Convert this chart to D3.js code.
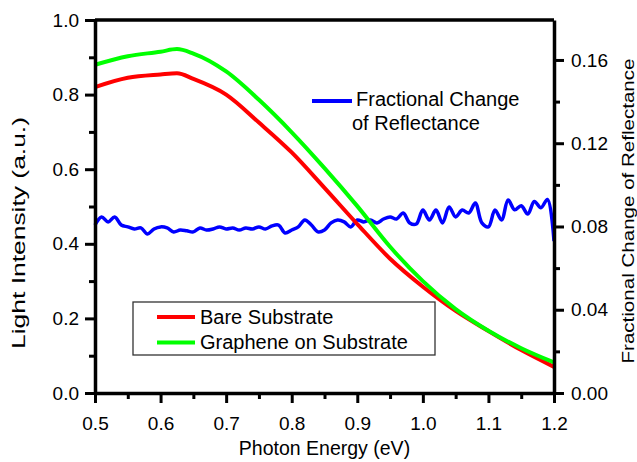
<!DOCTYPE html>
<html>
<head>
<meta charset="utf-8">
<script src="https://cdn.jsdelivr.net/npm/d3@7"></script>
<style>
  body { margin: 0; background: #fff; }
  text { font-family: "Liberation Sans", Arial, Helvetica, sans-serif; fill: #000; }
</style>
</head>
<body>
<script>
// intensity curves (left axis)
var smoothEnergy = [0.50, 0.55, 0.60, 0.625, 0.65, 0.70, 0.75, 0.80, 0.85, 0.90, 0.95, 1.00, 1.05, 1.10, 1.15, 1.20];
var bareSubstrate = [0.820, 0.845, 0.854, 0.857, 0.842, 0.800, 0.725, 0.645, 0.550, 0.453, 0.360, 0.285, 0.220, 0.166, 0.115, 0.070];
var grapheneOnSubstrate = [0.880, 0.903, 0.915, 0.922, 0.910, 0.862, 0.786, 0.699, 0.603, 0.501, 0.392, 0.300, 0.225, 0.167, 0.120, 0.082];

// fractional change of reflectance (right axis)
var blueEnergy = [0.50, 0.51, 0.52, 0.53, 0.54, 0.55, 0.56, 0.57, 0.58, 0.59,
  0.60, 0.61, 0.62, 0.63, 0.64, 0.65, 0.66, 0.67, 0.68, 0.69,
  0.70, 0.71, 0.72, 0.73, 0.74, 0.75, 0.76, 0.77, 0.78, 0.79,
  0.80, 0.81, 0.82, 0.83, 0.84, 0.85, 0.86, 0.87, 0.88, 0.89,
  0.90, 0.91, 0.92, 0.93, 0.94, 0.95, 0.96, 0.97, 0.98, 0.99,
  1.00, 1.01, 1.02, 1.03, 1.04, 1.05, 1.06, 1.07, 1.08, 1.09,
  1.10, 1.11, 1.12, 1.13, 1.14, 1.15, 1.16, 1.17, 1.18, 1.19, 1.20];
var fractionalChange = [0.0807, 0.0846, 0.0822, 0.0846, 0.0807, 0.0798, 0.0788, 0.0793, 0.0764, 0.0788,
  0.0798, 0.0793, 0.0774, 0.0783, 0.0779, 0.0774, 0.0793, 0.0783, 0.0788, 0.0798,
  0.0788, 0.0793, 0.0783, 0.0793, 0.0788, 0.0798, 0.0788, 0.0803, 0.0807, 0.0769,
  0.0783, 0.0798, 0.0831, 0.0807, 0.0774, 0.0783, 0.0817, 0.0831, 0.0822, 0.0798,
  0.0831, 0.0822, 0.0831, 0.0817, 0.0836, 0.0846, 0.0836, 0.0865, 0.0817, 0.0812,
  0.0879, 0.0831, 0.0879, 0.0817, 0.0894, 0.0846, 0.0879, 0.0865, 0.0913, 0.0817,
  0.0798, 0.0879, 0.0831, 0.0927, 0.0880, 0.0900, 0.0860, 0.0920, 0.0890, 0.0930, 0.0730];

var xTicks = [0.5, 0.6, 0.7, 0.8, 0.9, 1.0, 1.1, 1.2];
var xMinor = [0.55, 0.65, 0.75, 0.85, 0.95, 1.05, 1.15];
var yTicks = [0.0, 0.2, 0.4, 0.6, 0.8, 1.0];
var yMinor = [0.1, 0.3, 0.5, 0.7, 0.9];
var y2Ticks = [0.00, 0.04, 0.08, 0.12, 0.16];
var y2Minor = [0.02, 0.06, 0.10, 0.14];

var svgWidth = 637, svgHeight = 462;
var margin = {top: 20, left: 95, right: 83, bottom: 69};
var width = svgWidth - margin.left - margin.right;
var height = svgHeight - margin.top - margin.bottom;

var svg = d3.select("body").append("svg")
  .attr("width", svgWidth)
  .attr("height", svgHeight);

var g = svg.append("g")
  .attr("transform", `translate(${margin.left}, ${margin.top})`);

var x = d3.scaleLinear().domain([0.5, 1.2]).range([0, width]);
var y = d3.scaleLinear().domain([0, 1.0]).range([height, 0]);
var y2 = d3.scaleLinear().domain([0, 0.1792]).range([height, 0]);

//curves
var redData = smoothEnergy.map((e, i) => [e, bareSubstrate[i]]);
var greenData = smoothEnergy.map((e, i) => [e, grapheneOnSubstrate[i]]);
var blueData = blueEnergy.map((e, i) => [e, fractionalChange[i]]);

var smoothLine = d3.line()
  .x(d => x(d[0]))
  .y(d => y(d[1]))
  .curve(d3.curveMonotoneX);

var blueLine = d3.line()
  .x(d => x(d[0]))
  .y(d => y2(d[1]))
  .curve(d3.curveCatmullRom);

g.append("path").datum(blueData)
  .attr("d", blueLine)
  .attr("fill", "none").attr("stroke", "#0000ff").attr("stroke-width", 3.5)
  .attr("stroke-linejoin", "round");

g.append("path").datum(redData)
  .attr("d", smoothLine)
  .attr("fill", "none").attr("stroke", "#ff0000").attr("stroke-width", 4);

g.append("path").datum(greenData)
  .attr("d", smoothLine)
  .attr("fill", "none").attr("stroke", "#00ff00").attr("stroke-width", 4);

// axes
function styleAxis(sel) {
  sel.select(".domain").attr("stroke", "#000").attr("stroke-width", 3.5);
  sel.selectAll(".tick line").attr("stroke", "#000").attr("stroke-width", 3);
  sel.selectAll(".tick text").style("font-size", "19px");
}

var bottomAxis = d3.axisBottom(x).tickValues(xTicks).tickFormat(d3.format(".1f"))
  .tickSizeInner(10).tickSizeOuter(0).tickPadding(14);
g.append("g").attr("transform", `translate(0, ${height})`).call(bottomAxis).call(styleAxis);
g.append("g").attr("transform", `translate(0, ${height})`)
  .call(d3.axisBottom(x).tickValues(xMinor).tickSize(6).tickFormat(""))
  .call(styleAxis).select(".domain").remove();

var leftAxis = d3.axisLeft(y).tickValues(yTicks).tickFormat(d3.format(".1f"))
  .tickSizeInner(10).tickSizeOuter(0).tickPadding(6);
g.append("g").call(leftAxis).call(styleAxis);
g.append("g")
  .call(d3.axisLeft(y).tickValues(yMinor).tickSize(6).tickFormat(""))
  .call(styleAxis).select(".domain").remove();

var rightAxis = d3.axisRight(y2).tickValues(y2Ticks).tickFormat(d3.format(".2f"))
  .tickSizeInner(10).tickSizeOuter(0).tickPadding(7);
g.append("g").attr("transform", `translate(${width}, 0)`).call(rightAxis).call(styleAxis);
g.append("g").attr("transform", `translate(${width}, 0)`)
  .call(d3.axisRight(y2).tickValues(y2Minor).tickSize(6).tickFormat(""))
  .call(styleAxis).select(".domain").remove();

// top frame line
g.append("line")
  .attr("x1", 0).attr("x2", width).attr("y1", 0).attr("y2", 0)
  .attr("stroke", "#000").attr("stroke-width", 3.5);

// axis titles
svg.append("text")
  .attr("x", margin.left + width / 2).attr("y", 455)
  .attr("text-anchor", "middle")
  .style("font-size", "19.5px")
  .text("Photon Energy (eV)");

svg.append("text")
  .attr("transform", "translate(25, 233) rotate(-90)")
  .attr("text-anchor", "middle")
  .attr("textLength", 232).attr("lengthAdjust", "spacingAndGlyphs")
  .style("font-size", "18px")
  .text("Light Intensity (a.u.)");

svg.append("text")
  .attr("transform", "translate(634, 211) rotate(-90)")
  .attr("text-anchor", "middle")
  .attr("textLength", 305).attr("lengthAdjust", "spacingAndGlyphs")
  .style("font-size", "17px")
  .text("Fractional Change of Reflectance");

// legend for the blue curve
svg.append("line")
  .attr("x1", 312).attr("x2", 352).attr("y1", 101).attr("y2", 101)
  .attr("stroke", "#0000ff").attr("stroke-width", 4);
svg.append("text").attr("x", 356).attr("y", 106).style("font-size", "20px").text("Fractional Change");
svg.append("text").attr("x", 352).attr("y", 130).style("font-size", "20px").text("of Reflectance");

// boxed legend
var legend = svg.append("g");
legend.append("rect")
  .attr("x", 133).attr("y", 302).attr("width", 302).attr("height", 53)
  .attr("fill", "#fff").attr("stroke", "#333").attr("stroke-width", 1.3);
var legendItems = [["Bare Substrate", "#ff0000"], ["Graphene on Substrate", "#00ff00"]];
legendItems.forEach(function(item, i) {
  var ly = 317 + i * 25.5;
  legend.append("line")
    .attr("x1", 157).attr("x2", 195).attr("y1", ly).attr("y2", ly)
    .attr("stroke", item[1]).attr("stroke-width", 4);
  legend.append("text")
    .attr("x", 200).attr("y", ly + 6.5)
    .style("font-size", "20px")
    .text(item[0]);
});
</script>
</body>
</html>
